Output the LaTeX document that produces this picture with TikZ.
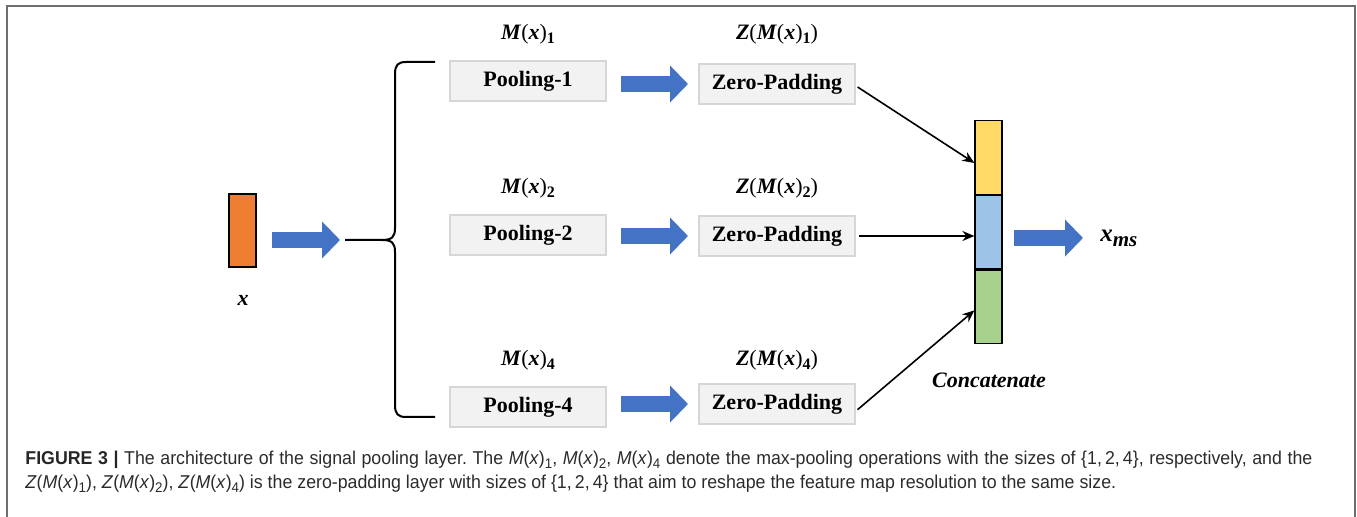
\documentclass[tikz,border=0pt]{standalone}
\usepackage{fontspec}
\setmainfont{Liberation Serif}
\newfontfamily\capfont[FakeStretch=0.955]{Liberation Sans}
\usetikzlibrary{arrows.meta,positioning,calc}
\definecolor{ink}{HTML}{000000}
\definecolor{frame}{HTML}{6E6E6E}
\definecolor{boxfill}{HTML}{F2F2F2}
\definecolor{boxline}{HTML}{D6D6D6}
\definecolor{flow}{HTML}{4472C4}
\definecolor{orng}{HTML}{ED7D31}
\definecolor{yel}{HTML}{FFD966}
\definecolor{lblue}{HTML}{9DC3E6}
\definecolor{lgreen}{HTML}{A9D18E}
\definecolor{captext}{HTML}{2B2B2B}
\newcommand{\bi}[1]{\textbf{\textit{#1}}}
\newcommand{\lowidx}[1]{\raisebox{-.45ex}{\footnotesize #1}}
\newcommand{\capidx}[1]{\raisebox{-.35ex}{\scriptsize #1}}
\tikzset{
  op/.style={draw=boxline,line width=1pt,fill=boxfill,minimum width=78pt,minimum height=20pt,inner sep=0pt,font=\fontsize{11}{13}\selectfont\bfseries},
  lbl/.style={font=\fontsize{11}{13}\selectfont,inner sep=0pt},
  seg/.style={draw=ink,line width=.6pt,minimum width=13.5pt,minimum height=36.75pt,inner sep=0pt},
  flw/.style={draw=flow,line width=8pt,-{Triangle[length=9pt,width=18pt]}},
  ar/.style={-{Stealth[length=6pt,width=5pt]},draw=ink,line width=.8pt},
  brc/.style={draw=ink,line width=1pt},
}

\begin{document}
\begin{tikzpicture}[x=0.5pt,y=-0.5pt]
  \useasboundingbox (0,0) rectangle (1357,517);
  \draw[frame,line width=1pt] (7,517) -- (7,6) -- (1355,6) -- (1355,517);

  % input signal
  \node[seg,fill=orng,minimum height=36.5pt] (x) at (242.5,230.5) {};
  \node[lbl] (xl) at (243,300) {\bi{x}};
  \coordinate (tip) at (345,240);
  \draw[flw,shorten <=7.5pt,shorten >=2.5pt] (x.east |- tip) -- (tip);

  % split brace
  \draw[brc] (tip) -- (382,240) .. controls (392,240) and (395,237) .. (395,228)
    -- (395,74) .. controls (395,65) and (398,62) .. (406,62) -- (435,62);
  \draw[brc] (382,240) .. controls (392,240) and (395,243) .. (395,252)
    -- (395,405) .. controls (395,414) and (398,417) .. (406,417) -- (435,417);

  % pooling and padding branches
  \foreach \k/\yp/\yz in {1/81/84,2/235/236,4/407/404} {
    \node[op] (p\k) at (528,\yp) {Pooling-\k};
    \node[lbl] (pl\k) at (528,\yp-47) {\bi{M}(\bi{x})\lowidx{\textbf{\k}}};
    \node[op] (z\k) at (777,\yz) {Zero-Padding};
    \node[lbl] (zl\k) at (777,\yp-47) {\bi{Z}(\bi{M}(\bi{x})\lowidx{\textbf{\k}})};
    \draw[flw,shorten <=7pt,shorten >=5pt] (p\k.east |- z\k.west) -- (z\k.west);
  }

  % concatenated map
  \node[seg,fill=yel] (c1) at (988.5,157.5) {};
  \node[seg,fill=lblue,below=0pt of c1] (c2) {};
  \node[seg,fill=lgreen,below=0pt of c2] (c3) {};
  \node[lbl] (cl) at (989,380) {\bi{Concatenate}};
  \draw[ar,shorten <=1pt] ([yshift=-1pt]z1.east) -- ([yshift=-2.75pt]c1.west);
  \draw[ar,shorten <=1.5pt] (z2.east) -- (z2.east -| c2.west);
  \draw[ar,shorten <=1pt] ([yshift=-3.5pt]z4.east) -- ([yshift=-1.75pt]c3.west);

  \node[lbl,anchor=west,font=\fontsize{12.5}{14}\selectfont] (xms) at (1100,238) {\bi{x}\raisebox{-.45ex}{\fontsize{10.5}{12}\selectfont\bi{ms}}};
  \draw[flw,shorten <=5.5pt,shorten >=8.5pt] (c2.east |- xms.west) -- (xms.west);

  % caption, first line set full width
  \node[anchor=north west,inner sep=0pt,text width=643.5pt,align=justify,text=captext,
        font=\capfont\fontsize{9.3}{12}\selectfont\frenchspacing] (cap) at (25,451)
   {\textbf{\color{black!85}FIGURE 3 |} The architecture of the signal pooling layer. The \textit{M}(\textit{x})\capidx{1}, \textit{M}(\textit{x})\capidx{2}, \textit{M}(\textit{x})\capidx{4} denote the max-pooling operations with the sizes of \{1,\,2,\,4\}, respectively, and the\linebreak
    \textit{Z}(\textit{M}(\textit{x})\capidx{1}), \textit{Z}(\textit{M}(\textit{x})\capidx{2}), \textit{Z}(\textit{M}(\textit{x})\capidx{4}) is the zero-padding layer with sizes of \{1,\,2,\,4\} that aim to reshape the feature map resolution to the same size.};
\end{tikzpicture}
\end{document}
